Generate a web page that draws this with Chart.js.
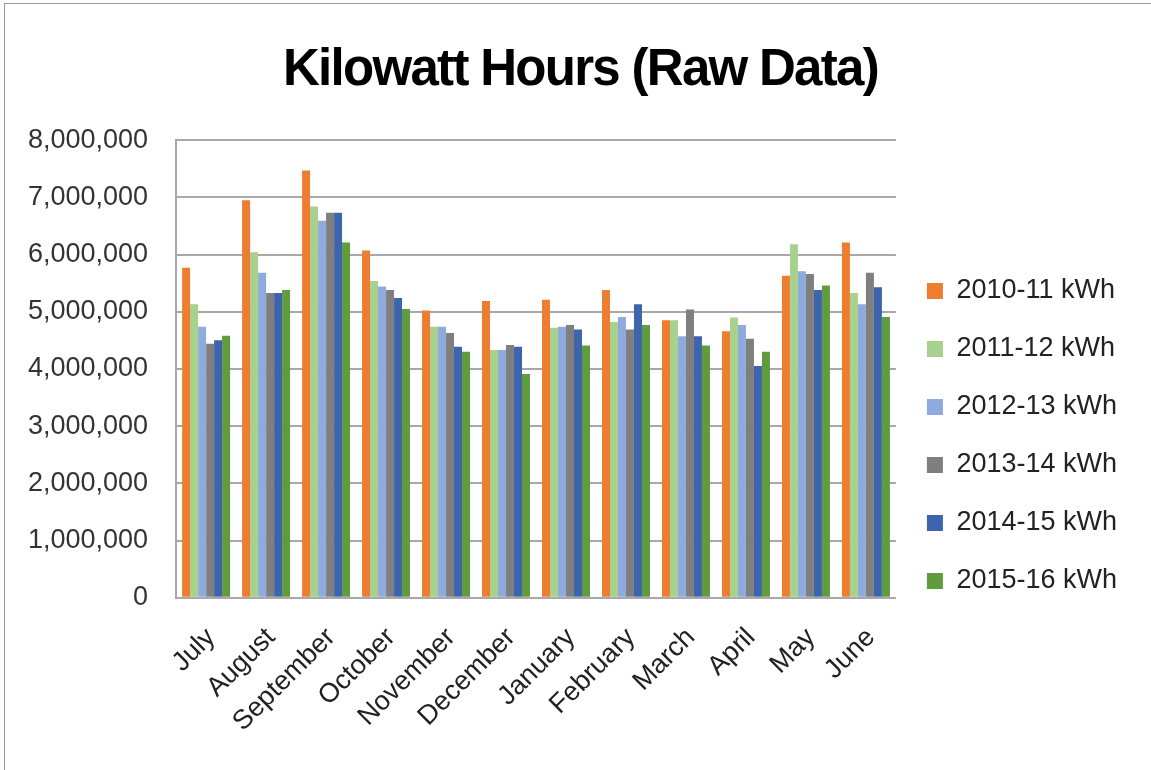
<!DOCTYPE html>
<html>
<head>
<meta charset="utf-8">
<script src="https://cdn.jsdelivr.net/npm/chart.js@4/dist/chart.umd.min.js"></script>
<style>
  html, body { margin: 0; padding: 0; background: #fff; overflow: hidden; }
  #frame {
    position: absolute; left: 4px; top: 3px; width: 1200px; height: 800px;
    border-left: 1px solid #9a9a9a; border-top: 1px solid #9a9a9a;
  }
  #title {
    position: absolute; top: 38px; left: 5px; width: 1151px;
    text-align: center; line-height: 51px;
    font: bold 51px "Liberation Sans", Arial, sans-serif;
    letter-spacing: -1.7px; color: #000;
  }
  #wrap { position: absolute; left: 0; top: 96px; width: 1151px; height: 674px; }
</style>
</head>
<body>
<div id="frame"></div>
<div id="title">Kilowatt Hours (Raw Data)</div>
<div id="wrap"><canvas id="chart"></canvas></div>
<script>
// months of the fiscal year, July..June
const months = ["July", "August", "September", "October", "November", "December",
  "January", "February", "March", "April", "May", "June"];

// kWh per month
const kwh2010 = [5770000, 6950000, 7470000, 6070000, 5020000, 5190000, 5210000, 5380000, 4850000, 4660000, 5630000, 6210000];
const kwh2011 = [5130000, 6040000, 6840000, 5540000, 4740000, 4330000, 4720000, 4820000, 4850000, 4900000, 6180000, 5330000];
const kwh2012 = [4740000, 5680000, 6590000, 5440000, 4740000, 4330000, 4740000, 4910000, 4570000, 4770000, 5710000, 5130000];
const kwh2013 = [4440000, 5330000, 6730000, 5380000, 4630000, 4420000, 4770000, 4690000, 5040000, 4530000, 5660000, 5680000];
const kwh2014 = [4500000, 5330000, 6730000, 5240000, 4390000, 4390000, 4690000, 5130000, 4570000, 4050000, 5380000, 5430000];
const kwh2015 = [4580000, 5380000, 6210000, 5050000, 4300000, 3910000, 4410000, 4770000, 4410000, 4300000, 5460000, 4910000];

const seriesLabels = ["2010-11 kWh", "2011-12 kWh", "2012-13 kWh", "2013-14 kWh", "2014-15 kWh", "2015-16 kWh"];
const seriesColors = ["#ED7D31", "#A9D18E", "#8FAADC", "#7F7F7F", "#3C65AE", "#609B3D"];
const seriesData = [kwh2010, kwh2011, kwh2012, kwh2013, kwh2014, kwh2015];

const FONT = "'Liberation Sans', Arial, sans-serif";
const GRID = "#a8a8a8";

const datasets = seriesLabels.map((label, i) => ({
  label,
  data: seriesData[i],
  backgroundColor: seriesColors[i],
  borderWidth: 0,
  categoryPercentage: 0.8,
  barPercentage: 1.0,
}));

new Chart(document.getElementById("chart"), {
  type: "bar",
  data: { labels: months, datasets },
  options: {
    responsive: true,
    maintainAspectRatio: false,
    animation: false,
    layout: { padding: { top: 14, left: 0, right: 24, bottom: 8 } },
    scales: {
      x: {
        grid: { display: false, drawTicks: false },
        border: { display: true, color: GRID, width: 2 },
        ticks: {
          color: "#222",
          font: { family: FONT, size: 27 },
          minRotation: 45,
          maxRotation: 45,
          padding: 24,
          labelOffset: 5,
        },
      },
      y: {
        min: 0,
        max: 8000000,
        grid: { color: GRID, lineWidth: 2, drawTicks: false },
        border: { display: true, color: GRID, width: 2 },
        ticks: {
          stepSize: 1000000,
          color: "#333",
          padding: 28,
          font: { family: FONT, size: 27 },
          callback: (v) => v.toLocaleString("en-US"),
        },
      },
    },
    plugins: {
      title: { display: false },
      tooltip: { enabled: false },
      legend: {
        position: "right",
        labels: {
          color: "#222",
          boxWidth: 16,
          boxHeight: 16,
          padding: 31,
          font: { family: FONT, size: 27 },
        },
      },
    },
  },
});
</script>
</body>
</html>
